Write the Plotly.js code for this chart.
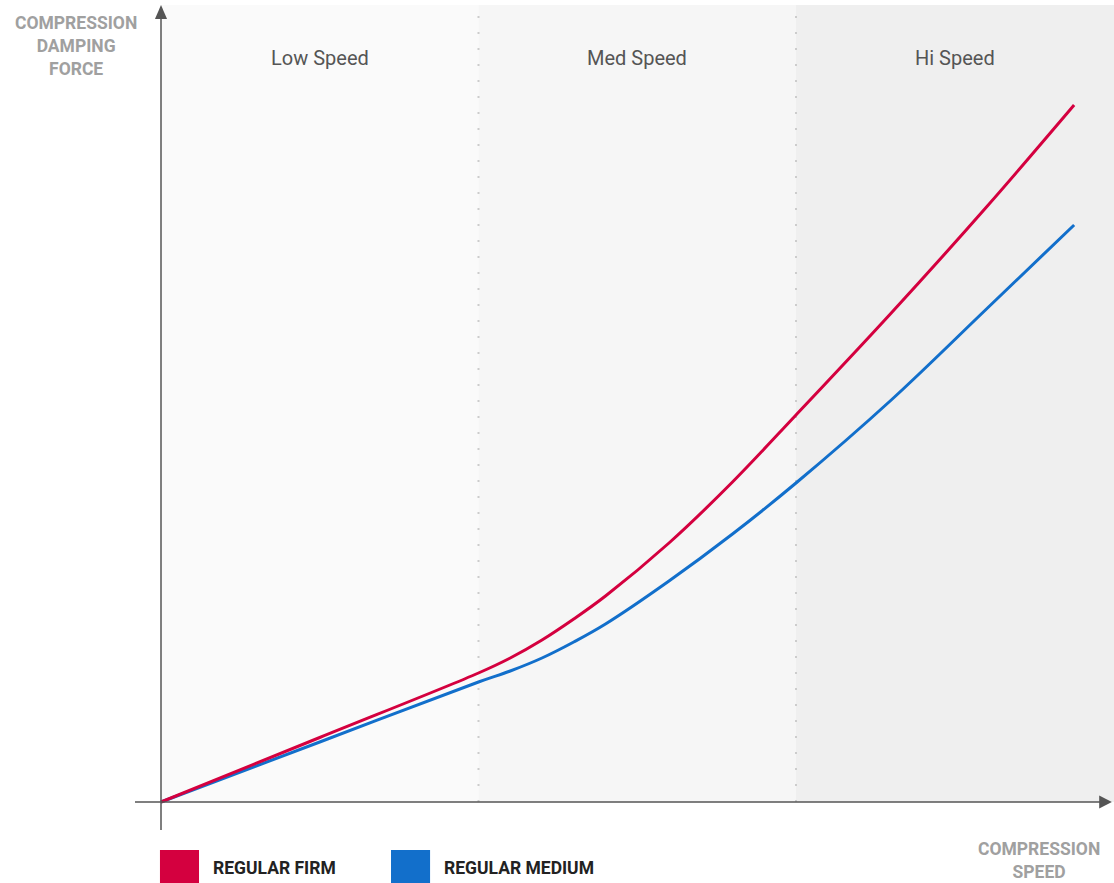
<!DOCTYPE html>
<html>
<head>
<meta charset="utf-8">
<script src="https://cdn.plot.ly/plotly-3.0.1.min.js"></script>
<style>html,body{margin:0;padding:0;background:#fff;}#chart{width:1114px;height:883px;}</style>
</head>
<body>
<div id="chart"></div>
<script>
// ---- data ----
var seriesNames = ["REGULAR FIRM", "REGULAR MEDIUM"];
var firmSpeed = [0, 0.5, 1.0, 1.1, 1.2, 1.3, 1.4, 1.6, 1.8, 2.0, 2.3, 2.6, 2.876];
var firmForce = [0, 0.645, 1.29, 1.44, 1.62, 1.83, 2.06, 2.59, 3.20, 3.87, 4.89, 5.95, 6.97];
var mediumSpeed = [0, 0.5, 1.0, 1.1, 1.2, 1.3, 1.4, 1.6, 1.8, 2.0, 2.3, 2.6, 2.876];
var mediumForce = [0, 0.60, 1.20, 1.31, 1.44, 1.60, 1.78, 2.21, 2.68, 3.19, 4.02, 4.93, 5.77];
var zoneNames = ["Low Speed", "Med Speed", "Hi Speed"];
var zoneStart = [0, 1, 2];
var zoneEnd = [1, 2, 3];
var zoneTop = 7.97;

var colors = ["#d4003f", "#126fcb"];
var zoneFill = ["#fafafa", "#f6f6f6", "#efefef"];

var traces = [
  {x: mediumSpeed, y: mediumForce, name: seriesNames[1], mode: "lines",
   line: {color: colors[1], width: 3, shape: "spline", smoothing: 1}, hoverinfo: "skip"},
  {x: firmSpeed, y: firmForce, name: seriesNames[0], mode: "lines",
   line: {color: colors[0], width: 3, shape: "spline", smoothing: 1}, hoverinfo: "skip"}
];

var shapes = [];
var annotations = [];
for (var i = 0; i < zoneNames.length; i++) {
  shapes.push({type: "rect", xref: "x", yref: "y", x0: zoneStart[i], x1: zoneEnd[i] + (i === 2 ? 0.01 : 0),
    y0: 0, y1: zoneTop, fillcolor: zoneFill[i], line: {width: 0}, layer: "below"});
  annotations.push({xref: "x", yref: "y", x: (zoneStart[i] + zoneEnd[i]) / 2, y: 7.44,
    text: zoneNames[i], showarrow: false, font: {family: "Roboto", size: 20, color: "#555555"},
    xanchor: "center", yanchor: "middle"});
}
[1, 2].forEach(function (b) {
  shapes.push({type: "line", xref: "x", yref: "y", x0: b, x1: b, y0: 0, y1: zoneTop,
    line: {color: "#cccccc", width: 2, dash: "2px,14px"}, layer: "below"});
});
// axes with arrows
var xmin = -0.0819, ymin = -0.28;
shapes.push({type: "line", xref: "x", yref: "y", x0: xmin, x1: 2.96, y0: 0, y1: 0,
  line: {color: "#555555", width: 1.5}});
shapes.push({type: "line", xref: "x", yref: "y", x0: 0, x1: 0, y0: ymin, y1: 7.85,
  line: {color: "#555555", width: 1.5}});
shapes.push({type: "path", xref: "x", yref: "y",
  path: "M 2.995 0 L 2.955 0.065 L 2.955 -0.065 Z", fillcolor: "#555555", line: {width: 0}});
shapes.push({type: "path", xref: "x", yref: "y",
  path: "M 0 7.97 L 0.019 7.83 L -0.019 7.83 Z", fillcolor: "#555555", line: {width: 0}});

// axis titles
annotations.push({xref: "paper", yref: "paper", x: -0.0603, y: 0.950,
  text: "COMPRESSION<br>DAMPING<br>FORCE", showarrow: false, align: "center",
  xanchor: "center", yanchor: "middle",
  font: {family: "Roboto", size: 17.5, color: "#a0a0a0", weight: "bold"}});
annotations.push({xref: "paper", yref: "paper", x: 0.923, y: -0.0364,
  text: "COMPRESSION<br>SPEED", showarrow: false, align: "center",
  xanchor: "center", yanchor: "middle",
  font: {family: "Roboto", size: 17.5, color: "#a0a0a0", weight: "bold"}});

// legend
var legX0 = [0.0255, 0.2615];
for (var j = 0; j < seriesNames.length; j++) {
  shapes.push({type: "rect", xref: "paper", yref: "paper", x0: legX0[j], x1: legX0[j] + 0.0399,
    y0: -0.0242, y1: -0.0642, fillcolor: colors[j], line: {width: 0}});
  annotations.push({xref: "paper", yref: "paper", x: legX0[j] + 0.0522, y: -0.0464,
    text: seriesNames[j], showarrow: false, xanchor: "left", yanchor: "middle",
    font: {family: "Roboto", size: 17.5, color: "#222222", weight: "bold"}});
}

var layout = {
  width: 1114, height: 883,
  margin: {l: 135, r: 0, t: 5, b: 53},
  paper_bgcolor: "#ffffff", plot_bgcolor: "#ffffff",
  showlegend: false,
  xaxis: {range: [xmin, 3.0016], showgrid: false, zeroline: false, showticklabels: false, ticks: "", showline: false, fixedrange: true},
  yaxis: {range: [ymin, 7.97], showgrid: false, zeroline: false, showticklabels: false, ticks: "", showline: false, fixedrange: true},
  shapes: shapes,
  annotations: annotations
};
Plotly.newPlot("chart", traces, layout, {displayModeBar: false, staticPlot: true});
</script>
</body>
</html>
